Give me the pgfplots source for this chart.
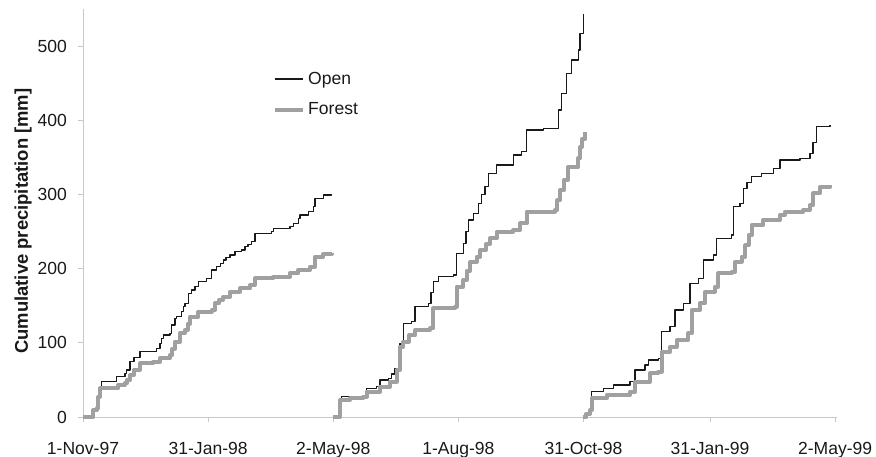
\documentclass[border=0pt]{standalone}
\usepackage{pgfplots}
\pgfplotsset{compat=1.18}
\usepackage{fontspec}
\setmainfont{Liberation Sans}
\definecolor{opencol}{RGB}{25,25,25}
\definecolor{forestcol}{RGB}{160,160,160}
\definecolor{axiscol}{RGB}{200,200,200}
\begin{document}
\begin{tikzpicture}
\path[use as bounding box] (0,0) rectangle (876bp,457bp);
\begin{axis}[
  at={(83bp,40bp)}, anchor=south west,
  scale only axis, width=753.5bp, height=408bp,
  xmin=0, xmax=548, ymin=0, ymax=550,
  enlargelimits=false,
  axis x line*=bottom, axis y line*=left,
  axis line style={draw=axiscol, line width=0.8bp},
  every tick/.style={draw=axiscol, line width=0.8bp},
  tick align=outside, major tick length=5bp,
  xtick={0,91,182,273,364,456,547},
  xticklabels={1-Nov-97,31-Jan-98,2-May-98,1-Aug-98,31-Oct-98,31-Jan-99,2-May-99},
  ytick={0,100,200,300,400,500},
  /pgf/number format/assume math mode=true,
  ticklabel style={font=\fontsize{17.6}{20}\selectfont, text=black!90},
  yticklabel style={inner sep=0pt, xshift=-11bp},
  xticklabel style={inner sep=0pt, yshift=-20bp},
  ylabel={Cumulative precipitation [mm]},
  ylabel style={at={(axis description cs:-0.0796,0.48)}, anchor=center,
    font=\bfseries\fontsize{18.5}{22}\selectfont, text=black!90},
  clip=false,
  legend image code/.code={\draw[#1] (0bp,0bp) -- (28bp,0bp);},
  legend style={at={(axis description cs:0.2522,0.846)}, anchor=north west, draw=none, fill=none,
    inner sep=0pt, row sep=17bp,
    font=\fontsize{17.6}{20}\selectfont,
    nodes={inner xsep=3bp, inner ysep=0pt, text=black!90}},
  legend cell align=left,
]
% Open, period 1
\addplot[const plot, draw=opencol, line width=1.3bp, line join=round] coordinates {
(0,0)(5,0)(7.5,9.4)(10,11.7)(11.1,36.4)(13.6,47.6)(24.5,54.3)(30.5,58.9)(31.8,63.3)(34.2,74.5)(37,80)(41.5,88)(53.6,92.6)(56,99.3)(57.2,106)(58.4,110.5)(63.3,112.8)(64.5,124)(66.9,133)(68.1,135.2)(71.8,141.9)(72.9,148.7)(74.2,153.2)(76.6,166.6)(79,171.1)(81.5,175.6)(83.9,182.3)(90,186.9)(93.6,198.1)(97.2,202.6)(100,207)(102,211.6)(104,215)(106.9,218.3)(110.5,222.8)(115.4,225)(117.8,229.5)(120,233)(122.7,236.3)(125.1,247.5)(137.2,249.8)(138.4,254.3)(150.5,256.5)(153,261)(156.6,267.8)(157.8,272.2)(163.9,276.7)(167.5,283.4)(168.7,294.6)(174.8,299.2)(180.9,300.5)
};
\addlegendentry{Open}
% Forest, period 1
\addplot[const plot, draw=forestcol, line width=4bp, line join=round] coordinates {
(0,0)(5.1,0)(7.5,9.4)(10,11.7)(11.1,27.4)(12.4,38.6)(23.3,38.6)(25.7,43.1)(30.5,45.4)(32,50)(34.2,56.6)(37,64)(41.5,72.3)(51.1,74.5)(56,79.1)(63.3,83.6)(65,92)(66.9,101.5)(70.5,112.8)(74.2,117.3)(76,126)(77.8,135.2)(83.9,141.9)(93.6,144.2)(96,153.2)(99,158)(102,162.1)(106.9,168.9)(114.2,173.4)(121.5,177.9)(125.1,186.9)(138.4,189.1)(150.5,193.7)(156.6,198.1)(165.1,202.6)(168.7,216)(174.8,219.7)(180.9,220.6)
};
\addlegendentry{Forest}
% Open, period 2
\addplot[forget plot, const plot, draw=opencol, line width=1.3bp, line join=round] coordinates {
(182,0)(186.9,22.9)(188.1,27.4)(203.9,27.4)(206.3,38.7)(213.6,40.9)(216,49.9)(222,52.2)(224.5,58)(226.9,65.6)(229.3,76.8)(230.5,99.3)(233,126.3)(239,128.4)(241.5,148.7)(251.1,153.2)(253,168)(254.8,182.3)(258.4,189.1)(269.3,191.4)(271.8,220.6)(276.6,234.1)(278.5,250)(280.2,265.5)(283.9,274.5)(287.5,288)(290,300)(292.4,310.4)(294.8,328.4)(300.9,339.6)(308.1,339.6)(313,353.1)(319.1,357.6)(322.7,386.8)(334.8,389.1)(343.3,389.1)(345.7,413.7)(348.1,436.3)(351.8,463.2)(355.4,481.1)(360.2,494.6)(361.5,517.1)(363.9,543.1)
};
% Forest, period 2
\addplot[forget plot, const plot, draw=forestcol, line width=4bp, line join=round] coordinates {
(182,0)(185.5,0)(186.9,22.9)(194.2,25.2)(203.9,27.4)(206.3,34.1)(216,40.9)(223.3,47.6)(228.1,63.3)(230.5,94.7)(233,101.5)(237,110)(241.5,117.3)(252.4,119.5)(254.8,146.5)(270.5,148.7)(271.8,175.6)(276.6,184.6)(279,197)(281.5,209.3)(286.3,216)(289,225)(293,233)(296,240.8)(300.9,249.7)(313,252)(317.8,261)(322.7,276.7)(343.3,279)(345,292)(346.9,305.9)(350,320)(352.9,337.3)(360.2,348.6)(361.5,364.3)(363,375)(365.1,384.5)
};
% Open, period 3
\addplot[forget plot, const plot, draw=opencol, line width=1.3bp, line join=round] coordinates {
(363.9,0)(366,4)(368.7,9.4)(370,34.1)(378.4,38.6)(385.7,43.1)(397.8,47.6)(401.5,63.3)(408.7,70.1)(411.1,76.8)(418.4,79.1)(420.9,115)(426.9,121.7)(430.5,144.2)(436.6,153.2)(441.5,180.2)(447.5,186.9)(451.1,211.6)(458.4,218.3)(460.9,240.8)(471.8,245.3)(473,283.4)(477.8,288)(480.2,308.2)(483,316)(486.3,323.9)(493.6,328.4)(502,335.2)(506.9,346.4)(521.5,348.6)(528.7,355.4)(531,370)(533.6,391.2)(543.3,393.5)
};
% Forest, period 3
\addplot[forget plot, const plot, draw=forestcol, line width=4bp, line join=round] coordinates {
(363.9,0)(366,4)(368.7,9.4)(370,25.2)(380.9,29.6)(397.8,34.1)(401.5,47.6)(412.4,58.9)(418.4,61.1)(420.9,88)(426.9,94.7)(431.8,103.8)(440.2,112.8)(442.7,144.2)(448.7,153.2)(452.4,168.9)(459.6,175.6)(462.1,193.7)(471.8,195.8)(474.2,209.3)(479,216)(481.5,231.8)(484,245)(486.3,258.8)(494.8,265.5)(506.9,272.2)(510.5,276.7)(523.9,279)(528.7,285.7)(531.1,301.5)(536,310.4)(543.3,312.7)
};
\end{axis}
\end{tikzpicture}
\end{document}
